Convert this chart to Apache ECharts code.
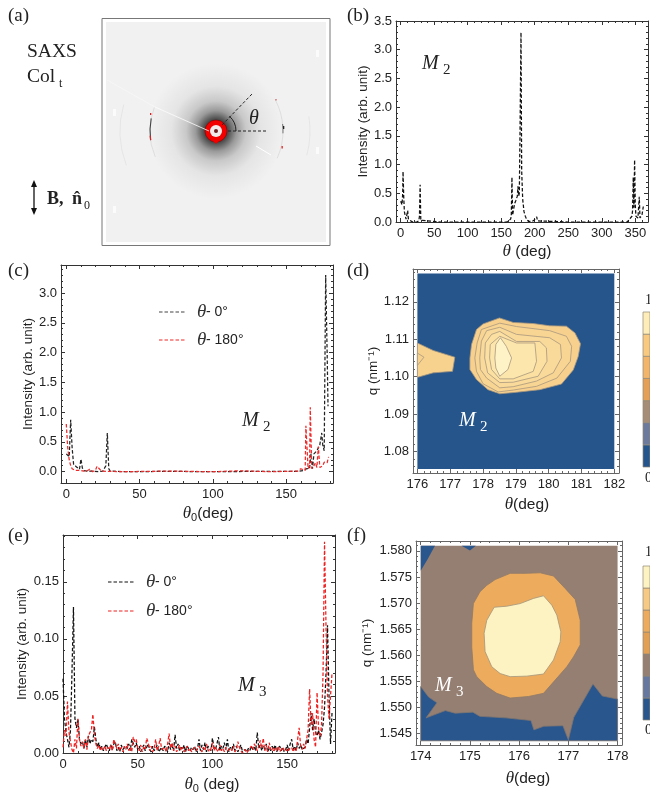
<!DOCTYPE html>
<html><head><meta charset="utf-8">
<style>html,body{margin:0;padding:0;background:#fff;overflow:hidden}#c{width:650px;height:797px}</style>
<script src="https://cdn.jsdelivr.net/npm/echarts@6/dist/echarts.min.js"></script>
</head><body><div id="c"></div>
<script>
// ---------- panel (b) ----------
const bTheta=[0,1,2,3,3.5,4.5,5.5,7,8,9,10.4,11.5,13,15,18,24,27,28,29,30,31,60,100,140,158,161,163,164,165,166,167,168,170,172,174,175,176,177,178,179.5,180.5,182,184,186,188,191,196,199,201,203,204,206,250,300,338,341,343,345,346,347,348,349,350,351,352,354,356,357,358,360,362];
const bInt=[.36,.33,.3,.5,.88,.45,.18,.1,.05,.06,.2,.05,.02,.02,0,0,.02,.1,.65,.03,0,0,0,0,0,.02,.03,.05,.1,.78,.12,.15,.32,.38,.45,.62,.45,.5,1.5,3.3,.9,.4,.18,.1,.04,.01,.01,.03,.05,.09,.02,0,0,0,0,.04,.03,.1,.2,.78,.25,1.08,.3,.1,.08,.07,.44,.07,.06,.12,.27];
// ---------- panel (c) ----------
const c0Theta=[0,1,2,3,4,5,6,7,8,9,10,11,12,14,18,22,25,26,27,28,29,30,40,70,100,130,158,162,164,166,167,168,169,170,171,172,173,174.3,175,176,177,178,178.6];
const c0Int=[.3,.3,.25,.87,.4,.12,.12,.08,.05,.04,.21,.06,.02,.01,.01,0,.01,.03,.1,.65,.05,.01,0,.005,0,.005,.005,.02,.05,.05,.3,.05,.3,.33,.35,.4,.45,.65,.45,.35,3.3,2,1.1];
const c180Theta=[0,1,2,3,4,5,6,8,10,12,14,16,18,20,21,22,24,28,40,70,100,118,140,158,160,161,163,163.5,165,166,166.5,167.5,169,170,171,172,173,174,175,176,177,178,179];
const c180Int=[.8,.4,.2,.1,.05,.03,.02,.02,.02,.01,.01,.04,0,.03,.09,.06,.01,.005,0,.01,0,.015,0,.01,.05,.03,.02,.77,.05,.1,1.08,.05,.1,.15,.07,.42,.07,.06,.1,.16,.13,.15,.25];
// ---------- panel (e): one value per degree, 0..180 ----------
const e0Int=[.065,.03,.018,.012,.005,.02,.07,.128,.03,.022,.03,.012,.008,.01,.004,.012,.005,.015,.008,.012,.01,.023,.012,.005,.009,.003,.006,.002,.005,.008,
.004,.002,.007,.003,.008,.01,.002,.005,.001,.007,.003,.002,.006,.004,.008,.002,.012,.013,.005,.009,
.003,.006,.001,.004,.007,.002,.005,.008,.003,.001,.006,.002,.004,.007,.001,.003,.005,.002,.006,.004,
.001,.009,.003,.006,.002,.016,.004,.008,.002,.005,.003,.007,.001,.006,.004,.002,.005,.003,.006,.001,
.004,.012,.002,.007,.003,.009,.001,.006,.004,.002,.013,.005,.003,.008,.014,.002,.006,.004,.009,.003,
.012,.001,.005,.003,.008,.002,.006,.001,.004,.007,.002,.001,.003,.001,.004,.002,.006,.003,.005,.002,
.018,.004,.007,.002,.006,.003,.008,.001,.005,.002,.006,.003,.007,.001,.004,.006,.002,.005,.001,.003,
.007,.002,.008,.012,.003,.006,.002,.009,.004,.007,.003,.002,.005,.012,.008,.022,.035,.02,.03,.018,
.015,.02,.012,.018,.025,.04,.07,.112,.05,.008,.035];
const e180Int=[.005,.02,.015,.045,.018,.01,.003,0,.012,.004,.03,.012,.006,.01,.004,.012,.003,.015,.018,.02,
.034,.016,.008,.004,.007,.002,.005,.003,.006,.002,.005,.003,.007,.002,.012,.013,.004,.008,.002,.005,
.001,.006,.003,.008,.002,.005,.001,.014,.01,.012,.004,.002,.007,.001,.005,.003,.013,.009,.002,.006,
.001,.004,.012,.002,.006,.013,.003,.002,.005,.001,.008,.017,.004,.009,.002,.006,.001,.004,.007,.002,
.005,.001,.003,.006,.002,.004,.001,.003,.005,.002,.001,.006,.003,.001,.005,.002,.008,.003,.001,.004,
.009,.002,.006,.001,.003,.007,.002,.004,.001,.005,.002,.001,.004,.002,.006,.001,.003,.01,.005,.002,
0,.001,.003,0,.002,.001,.006,.003,.008,.005,.002,.006,.011,.004,.013,.002,.007,.001,.009,.003,
.005,.001,.004,.002,.006,.001,.003,.005,.002,.004,.001,.003,.002,.005,.001,.004,.002,.003,.022,.006,
.003,.008,.004,.012,.02,.056,.025,.035,.012,.005,.053,.022,.014,.025,.07,.185,.11,.05,.03,.05,.07];
// ---------- panel (d) contours: [theta, q] ----------
const dBack=[[176,1.0753],[182,1.0753],[182,1.1276],[176,1.1276]];
const dLeftOuter=[[176,1.1090],[176.48,1.1070],[177.14,1.1052],[177.07,1.1014],[176.48,1.1010],[176,1.0998]];
const dLeftInner=[[176,1.1063],[176.2,1.1052],[176,1.1030]];
const dL1=[[177.6,1.1050],[177.65,1.1086],[177.8,1.1126],[178,1.1141],[178.5,1.1157],[178.92,1.1145],[179.53,1.1142],[180.03,1.1136],[180.54,1.1135],[180.8,1.1117],[180.97,1.1088],[180.9,1.1054],[180.75,1.1018],[180.39,1.0980],[179.73,1.0965],[179.02,1.0958],[178.51,1.0954],[178.15,1.0965],[177.8,1.0992],[177.6,1.1019]];
const dL2=[[177.75,1.1050],[177.82,1.1090],[177.95,1.1126],[178.51,1.1143],[179.02,1.1134],[180.03,1.1123],[180.54,1.1108],[180.7,1.1081],[180.66,1.1041],[180.25,1.0996],[179.63,1.0974],[178.92,1.0964],[178.46,1.0959],[178,1.0981],[177.8,1.1014]];
const dL3=[[177.9,1.1050],[177.95,1.1095],[178.11,1.1123],[178.51,1.1132],[179.02,1.1113],[180.03,1.1104],[180.36,1.1086],[180.39,1.1050],[180.14,1.1010],[179.63,1.0988],[178.92,1.0973],[178.51,1.0970],[178.11,1.0996],[177.92,1.1019]];
const dL4=[[178.05,1.1050],[178.07,1.1090],[178.26,1.1113],[178.51,1.1121],[179.02,1.1094],[179.73,1.1094],[179.93,1.1077],[179.95,1.1041],[179.68,1.1001],[178.92,1.0985],[178.51,1.0984],[178.14,1.1010]];
const dL5=[[178.2,1.1050],[178.22,1.1086],[178.51,1.1108],[179.02,1.1090],[179.58,1.1090],[179.63,1.1041],[179.53,1.1014],[178.92,1.0994],[178.51,1.0994],[178.26,1.1019]];
const dL6=[[178.36,1.1050],[178.39,1.1086],[178.53,1.1104],[178.71,1.1081],[178.87,1.1050],[178.76,1.1019],[178.51,1.1001],[178.39,1.1023]];
// ---------- panel (f) contours: [theta, q] ----------
const fBack=[[174,1.5436],[178,1.5436],[178,1.581],[174,1.581]];
const fBlueCorner=[[174,1.581],[174.29,1.581],[174.14,1.5784],[174,1.5762]];
const fBlueTop=[[174.83,1.581],[175.12,1.581],[175,1.5801]];
const fBlueLow=[[174,1.5540],[174.16,1.5520],[174.33,1.5509],[174.11,1.5480],[174.5,1.5494],[174.7,1.5489],[175.06,1.5491],[175.2,1.5483],[175.73,1.5480],[176.24,1.5475],[176.3,1.5457],[176.5,1.5464],[176.89,1.5465],[177,1.5438],[177.11,1.5481],[177.5,1.5545],[177.69,1.5522],[178,1.5516],[178,1.5436],[174,1.5436]];
const fOrange=[[175.07,1.5699],[175.207,1.5722],[175.342,1.5734],[175.512,1.5745],[175.817,1.5757],[176.122,1.5757],[176.427,1.5758],[176.698,1.5752],[176.936,1.5728],[177.139,1.5707],[177.241,1.5667],[177.241,1.562],[177.105,1.5597],[176.969,1.5578],[176.495,1.5527],[176.19,1.5521],[175.817,1.5518],[175.546,1.5527],[175.342,1.554],[175.139,1.5559],[175.071,1.5572],[175.037,1.5616],[175.037,1.5661]];
const fPale=[[175.288,1.5642],[175.342,1.5667],[175.492,1.5692],[175.749,1.5694],[176.02,1.5699],[176.292,1.5709],[176.495,1.5714],[176.664,1.5696],[176.766,1.5677],[176.847,1.5645],[176.834,1.5626],[176.698,1.5591],[176.495,1.5564],[176.156,1.556],[175.817,1.5559],[175.614,1.5565],[175.444,1.5578],[175.308,1.5607]];
// ---------- colour bars, ticks ----------
const dColors=['#25558D','#6C7A9E','#A68D78','#E5A058','#F2B56A','#F8C97F','#FEEDB8'];
const fColors=['#2A568E','#6678A0','#957F72','#E2A055','#EDAC5D','#F6C985','#FDF3C2'];
const bXTicks=[0,50,100,150,200,250,300,350], bYTicks=[0,.5,1,1.5,2,2.5,3,3.5];
const cXTicks=[0,50,100,150], cYTicks=[0,.5,1,1.5,2,2.5,3];
const eXTicks=[0,50,100,150], eYTicks=[0,.05,.1,.15];
const dXTicks=[176,177,178,179,180,181,182], dYTicks=[1.08,1.09,1.1,1.11,1.12];
const fXTicks=[174,175,176,177,178], fYTicks=[1.545,1.55,1.555,1.56,1.565,1.57,1.575,1.58];

const SANS='"Liberation Sans",Arial,sans-serif', SERIF='"Liberation Serif",serif';
const INK='#222';
const zip=(x,y)=>x.map((v,i)=>[v,y[i]]);
const seq=(a,b,s)=>{const r=[];const n=Math.round((b-a)/s);for(let i=0;i<=n;i++)r.push(+(a+i*s).toFixed(5));return r;};

const grids=[],xAxes=[],yAxes=[],series=[];
function panel(o){
  const g=grids.length;
  grids.push({left:o.box[0],top:o.box[1],width:o.box[2]-o.box[0],height:o.box[3]-o.box[1],containLabel:false});
  const mk=(dim,pos,major,ticks,minor,showLabel)=>{
    const isX=dim==='x', r=isX?o.xr:o.yr;
    const a={type:'value',gridIndex:g,position:pos,min:r[0],max:r[1],scale:true,splitLine:{show:false},
      axisLine:{show:!minor,onZero:false,lineStyle:{color:o.frame,width:1}},
      axisTick:{show:true,inside:true,length:minor?2:4,lineStyle:{color:o.frame,width:1},customValues:ticks},
      axisLabel:{show:showLabel,customValues:ticks,color:INK,fontFamily:SANS,fontSize:13,margin:isX?5:4,
        hideOverlap:false,showMinLabel:true,showMaxLabel:true,formatter:o[isX?'xf':'yf']}};
    if(showLabel){
      const n=isX?o.xName:o.yName;
      Object.assign(a,{name:n.t,nameLocation:'middle',nameGap:n.gap,nameTextStyle:{fontFamily:SANS,fontSize:13.5,color:INK,padding:n.pad||0,rich:n.rich||{}}});
    }
    return a;
  };
  const base=xAxes.length, ybase=yAxes.length;
  xAxes.push(mk('x','bottom',true,o.xt,false,true),mk('x','top',true,o.xt,false,false),
             mk('x','bottom',false,o.xm,true,false),mk('x','top',false,o.xm,true,false));
  yAxes.push(mk('y','left',true,o.yt,false,true),mk('y','right',true,o.yt,false,false),
             mk('y','left',false,o.ym,true,false),mk('y','right',false,o.ym,true,false));
  return {x:base,y:ybase};
}
function line(ax,data,color){
  series.push({type:'line',xAxisIndex:ax.x,yAxisIndex:ax.y,data,showSymbol:false,symbol:'none',
    lineStyle:{color,width:1.25,type:[3.5,2]},itemStyle:{color},silent:true,animation:false});
}
function polys(ax,layers,z){
  series.push({type:'custom',xAxisIndex:ax.x,yAxisIndex:ax.y,silent:true,z:z||1,clip:false,
    data:layers.map((l,i)=>[i]),
    renderItem(p,api){const l=layers[api.value(0)];
      return {type:'polygon',shape:{points:l.pts.map(q=>api.coord(q))},
        style:{fill:l.fill,stroke:l.stroke||null,lineWidth:l.stroke?0.8:0}};}
  });
}
const richT={i:{fontFamily:SERIF,fontStyle:'italic',fontSize:17,color:INK},s:{fontFamily:SANS,fontSize:11,color:INK,padding:[8,0,0,0]},n:{fontFamily:SANS,fontSize:15.5,color:INK}};
const f1=v=>v.toFixed(1), f2=v=>v.toFixed(2), f3=v=>v.toFixed(3), f0=v=>String(Math.round(v));

// (b)
const axB=panel({box:[396,21,648,222],xr:[-7,369],yr:[0,3.5],xt:bXTicks,yt:bYTicks,xm:seq(0,360,10),ym:seq(0,3.5,.1),frame:'#333',xf:f0,yf:f1,
  xName:{t:'{i|θ}{n| (deg)}',rich:richT,gap:21,pad:[0,0,0,10]},yName:{t:'Intensity (arb. unit)',gap:19}});
line(axB,zip(bTheta,bInt),'#111');
// (c)
const axC=panel({box:[61,265,333,483],xr:[-3.6,182],yr:[-.19,3.47],xt:cXTicks,yt:cYTicks,xm:seq(0,180,10),ym:seq(0,3.4,.1),frame:'#333',xf:f0,yf:f1,
  xName:{t:'{i|θ}{s|0}{n|(deg)}',rich:richT,gap:21,pad:[0,0,0,22]},yName:{t:'Intensity (arb. unit)',gap:26}});
line(axC,zip(c0Theta,c0Int),'#222');
line(axC,zip(c180Theta,c180Int),'#EE2A2A');
// (e)
const eX=e0Int.map((_,i)=>i);
const axE=panel({box:[63,535,335,753],xr:[0,182],yr:[0,.191],xt:eXTicks,yt:eYTicks,xm:seq(0,180,10),ym:seq(0,.19,.01),frame:'#333',xf:f0,yf:f2,
  xName:{t:'{i|θ}{s|0}{n| (deg)}',rich:richT,gap:22,pad:[0,0,0,26]},yName:{t:'Intensity (arb. unit)',gap:34}});
line(axE,zip(eX,e0Int),'#111');
line(axE,zip(eX,e180Int),'#EE2020');
// (d)
const axD=panel({box:[413,269,619,473],xr:[175.866,182.143],yr:[1.0742,1.1288],xt:dXTicks,yt:dYTicks,xm:seq(176,182,.2),ym:seq(1.076,1.128,.002),frame:'#666',xf:f0,yf:f2,
  xName:{t:'{i|θ}{n|(deg)}',rich:richT,gap:23,pad:[0,0,0,22]},yName:{t:'q (nm⁻¹)',gap:33}});
const ln='#A8977F';
polys(axD,[{pts:dBack,fill:'#25558A'},
  {pts:dLeftOuter,fill:'#F7D28E',stroke:ln},{pts:dLeftInner,fill:'#F7D28E',stroke:ln},
  {pts:dL1,fill:'#F7D08E',stroke:ln},{pts:dL2,fill:'#F8D592',stroke:ln},{pts:dL3,fill:'#F9DA9A',stroke:ln},
  {pts:dL4,fill:'#FBE0A2',stroke:ln},{pts:dL5,fill:'#FDE6AB',stroke:ln},{pts:dL6,fill:'#FEF3C6',stroke:ln}]);
// (f)
const axF=panel({box:[416,541,622,745],xr:[173.904,178.09],yr:[1.5428,1.5819],xt:fXTicks,yt:fYTicks,xm:seq(174,178,.2),ym:seq(1.544,1.581,.001),frame:'#666',xf:f0,yf:f3,
  xName:{t:'{i|θ}{n|(deg)}',rich:richT,gap:25,pad:[0,0,0,18]},yName:{t:'q (nm⁻¹)',gap:42}});
polys(axF,[{pts:fBack,fill:'#957F72'},
  {pts:fBlueCorner,fill:'#2A568E'},{pts:fBlueTop,fill:'#2A568E'},{pts:fBlueLow,fill:'#2A568E',stroke:'#7D7570'},
  {pts:fOrange,fill:'#EDAC5D',stroke:'#8F7A68'},{pts:fPale,fill:'#FDF3C2',stroke:'#A3947A'}]);

// colour bars
function colorbar(top,h,colors){
  const g=grids.length;
  grids.push({left:643,top,width:20,height:h});
  xAxes.push({type:'value',gridIndex:g,min:0,max:1,show:false});
  yAxes.push({type:'value',gridIndex:g,min:0,max:colors.length,show:false});
  const layers=colors.map((c,i)=>({fill:c,stroke:'#8f8877',pts:[[0,i],[1,i],[1,i+1],[0,i+1]]}));
  series.push({type:'custom',xAxisIndex:xAxes.length-1,yAxisIndex:yAxes.length-1,silent:true,clip:false,
    data:layers.map((l,i)=>[i]),
    renderItem(p,api){const l=layers[api.value(0)];
      return {type:'polygon',shape:{points:l.pts.map(q=>api.coord(q))},style:{fill:l.fill,stroke:l.stroke,lineWidth:.7}};}});
}
colorbar(312,155,dColors);
colorbar(566,154,fColors);

// ---------- annotations ----------
const T=(x,y,text,o={})=>({type:'text',x,y,z:50,silent:true,style:Object.assign({text,fontFamily:SERIF,fontSize:19,fill:'#222',verticalAlign:'middle',align:'left'},o)});
const L=(x1,y1,x2,y2,stroke,w,dash)=>({type:'line',z:40,silent:true,shape:{x1,y1,x2,y2},style:{stroke,lineWidth:w||1,lineDash:dash||null}});
const R=(x,y,w,h,fill,z)=>({type:'rect',z:z||30,silent:true,shape:{x,y,width:w,height:h},style:{fill}});
const M=(x,y,text,n,fill)=>[T(x,y,text,{fontStyle:'italic',fontSize:20,fill}),T(x+21,y+6,n,{fontSize:15,fill})];
const legend=(x,y,color,label)=>[L(x,y,x+27,y,color,1.2,[3.5,2]),T(x+38,y,'θ',{fontStyle:'italic',fontSize:19,fill:'#333'}),T(x+47,y,label,{fontFamily:SANS,fontSize:14,fill:'#222'})];
const cx=216,cy=131;
const arc=(r,a,b,stroke,w,op)=>({type:'arc',z:32,silent:true,shape:{cx,cy,r,startAngle:a,endAngle:b,clockwise:true},style:{stroke,lineWidth:w,fill:'none',opacity:op}});
const rad=Math.PI/180;
const graphics=[
  // detector image
  {type:'rect',z:29,silent:true,shape:{x:102,y:18.5,width:228,height:227},style:{fill:'#fff',stroke:'#777',lineWidth:1}},
  R(106,22,220,220,'#F1F1F1'),
  {type:'circle',z:31,silent:true,shape:{cx,cy,r:68},style:{fill:{type:'radial',x:.5,y:.5,r:.5,colorStops:[
    {offset:0,color:'rgba(0,0,0,.8)'},{offset:.16,color:'rgba(0,0,0,.72)'},{offset:.3,color:'rgba(0,0,0,.36)'},{offset:.44,color:'rgba(0,0,0,.17)'},{offset:.66,color:'rgba(0,0,0,.05)'},{offset:1,color:'rgba(0,0,0,0)'}]}}},
  arc(67,-28*rad,24*rad,'#aaa',.5,.55),arc(66,157*rad,201*rad,'#aaa',.5,.55),
  arc(94,-9*rad,15*rad,'#bbb',.5,.45),arc(96,159*rad,196*rad,'#bbb',.5,.45),
  arc(67,-6*rad,2*rad,'#444',1,.7),arc(66,172*rad,191*rad,'#333',1.1,.9),
  arc(66,172*rad,176*rad,'#E02020',1.2,1),
  L(107,80,155,107,'#F8F8F8',.7),L(155,107,209,131,'#FDFDFD',.8),L(256,146,271,155,'#FFFFFF',1),
  R(113,109,3,7,'#FBFBFB'),R(316,50,3,7,'#FBFBFB'),R(316,147,3,7,'#FBFBFB'),R(113,206,3,7,'#FBFBFB'),
  R(150,113,1.3,2,'#E02020',33),R(275.5,99,1,1.5,'#C04040',33),R(281.5,146,1.3,2.5,'#E02020',33),R(283,126,1.3,3,'#222',33),
  {type:'circle',z:34,silent:true,shape:{cx,cy,r:11},style:{fill:'#F20000',stroke:'#500',lineWidth:.4}},
  {type:'polygon',z:34,silent:true,shape:{points:[[213,141],[219,141],[216,144]]},style:{fill:'#F20000'}},
  {type:'circle',z:35,silent:true,shape:{cx,cy,r:6},style:{fill:'#F0ECEC'}},
  {type:'circle',z:36,silent:true,shape:{cx,cy,r:2},style:{fill:'#702020'}},
  L(222,125,252,94,'#222',1,[3,2]),L(228,131,268,131,'#222',1,[3,2]),
  {type:'arc',z:38,silent:true,shape:{cx,cy,r:20,startAngle:-48*rad,endAngle:0,clockwise:true},style:{stroke:'#222',lineWidth:1,fill:'none'}},
  T(249,119,'θ',{fontStyle:'italic',fontSize:20}),
  // left labels for (a)
  T(27,52,'SAXS',{fontSize:19.5}),T(27,77,'Col',{fontSize:19.5}),T(59,84,'t',{fontSize:12}),
  L(34,184,34,211,'#111',1.3),
  {type:'polygon',z:40,silent:true,shape:{points:[[34,180],[31,187],[37,187]]},style:{fill:'#111'}},
  {type:'polygon',z:40,silent:true,shape:{points:[[34,215],[31,208],[37,208]]},style:{fill:'#111'}},
  T(47,199,'B,',{fontWeight:'bold',fontSize:18}),T(72,199,'n̂',{fontWeight:'bold',fontSize:18}),T(84,206,'0',{fontSize:12}),
  // panel letters
  T(8,16,'(a)'),T(347,16,'(b)'),T(8,271,'(c)'),T(347,271,'(d)'),T(8,536,'(e)'),T(347,536,'(f)'),
  ...M(422,64,'M','2','#222'),...M(242,421,'M','2','#222'),...M(459,421,'M','2','#fff'),...M(238,686,'M','3','#222'),...M(435,686,'M','3','#fff'),
  ...legend(159,312,'#444','- 0°'),...legend(159,340,'#EE2A2A','- 180°'),
  ...legend(108,582,'#111','- 0°'),...legend(108,611,'#EE2020','- 180°'),
  T(645,300,'1',{fontSize:14}),T(645,478,'0',{fontSize:14}),T(645,552,'1',{fontSize:14}),T(645,730,'0',{fontSize:14})
];
const chart=echarts.init(document.getElementById('c'),null,{renderer:'canvas'});
chart.setOption({animation:false,backgroundColor:'#fff',grid:grids,xAxis:xAxes,yAxis:yAxes,series,graphic:{elements:graphics}});
</script></body></html>
